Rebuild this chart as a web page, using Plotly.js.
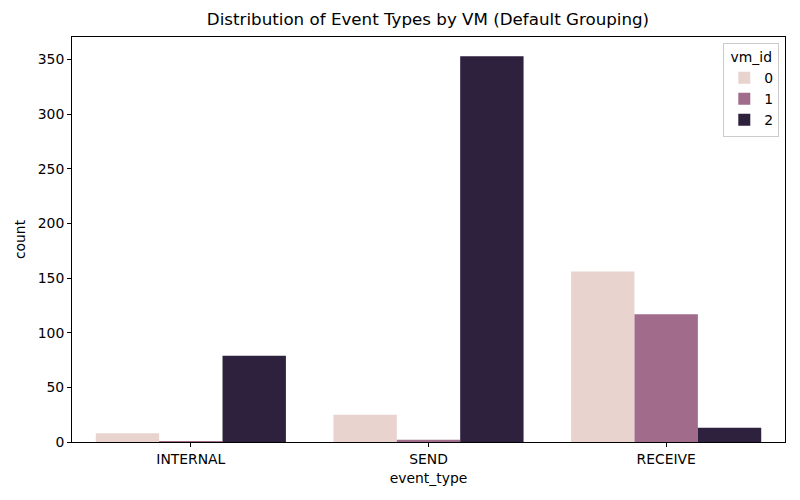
<!DOCTYPE html>
<html>
<head>
<meta charset="utf-8">
<script src="https://cdn.plot.ly/plotly-3.0.1.min.js"></script>
<style>html,body{margin:0;padding:0;background:#fff;}#chart{width:800px;height:500px;}</style>
</head>
<body>
<div id="chart"></div>
<script>
const categories = ["INTERNAL", "SEND", "RECEIVE"];
const vmIds = ["0", "1", "2"];
const vm0 = [8, 25, 156];
const vm1 = [1, 2, 117];
const vm2 = [79, 353, 13];
const colors = ["#e8d3cf", "#a16c8c", "#2e213d"];

const seriesValues = [vm0, vm1, vm2];
const traces = seriesValues.map((vals, i) => ({
  type: "bar",
  name: vmIds[i],
  x: categories,
  y: vals,
  marker: {color: colors[i], line: {width: 0}},
  hoverinfo: "x+y+name"
}));

const font = {family: "DejaVu Sans, sans-serif", size: 13.9, color: "#000"};
const layout = {
  width: 800, height: 500,
  margin: {l: 72, r: 15, t: 37, b: 58, pad: 0},
  paper_bgcolor: "#fff", plot_bgcolor: "#fff",
  font: font,
  barmode: "group", bargap: 0.2, bargroupgap: 0,
  title: {text: "Distribution of Event Types by VM (Default Grouping)", font: {family: "DejaVu Sans, sans-serif", size: 16.7, color: "#000"}, x: 0.535, xanchor: "center", y: 0.962, yanchor: "middle"},
  xaxis: {
    title: {text: "event_type", font: font, standoff: 7},
    showline: true, linecolor: "#000", linewidth: 1, mirror: true,
    ticks: "outside", ticklen: 4, tickcolor: "#000",
    showgrid: false, zeroline: false,
    range: [-0.5, 2.5]
  },
  yaxis: {
    title: {text: "count", font: font, standoff: 8},
    showline: true, linecolor: "#000", linewidth: 1, mirror: true,
    ticks: "outside", ticklen: 4, tickcolor: "#000",
    showgrid: false, zeroline: false,
    range: [0, 370.65], tickvals: [0, 50, 100, 150, 200, 250, 300, 350]
  },
  legend: {
    title: {text: "vm_id", side: "top center", font: font},
    x: 0.992, xanchor: "right", y: 0.985, yanchor: "top",
    bordercolor: "#cccccc", borderwidth: 1, bgcolor: "rgba(255,255,255,0.8)",
    font: font, traceorder: "normal", tracegroupgap: 0
  },
  showlegend: true
};
Plotly.newPlot("chart", traces, layout, {displayModeBar: false, staticPlot: true});
</script>
</body>
</html>
